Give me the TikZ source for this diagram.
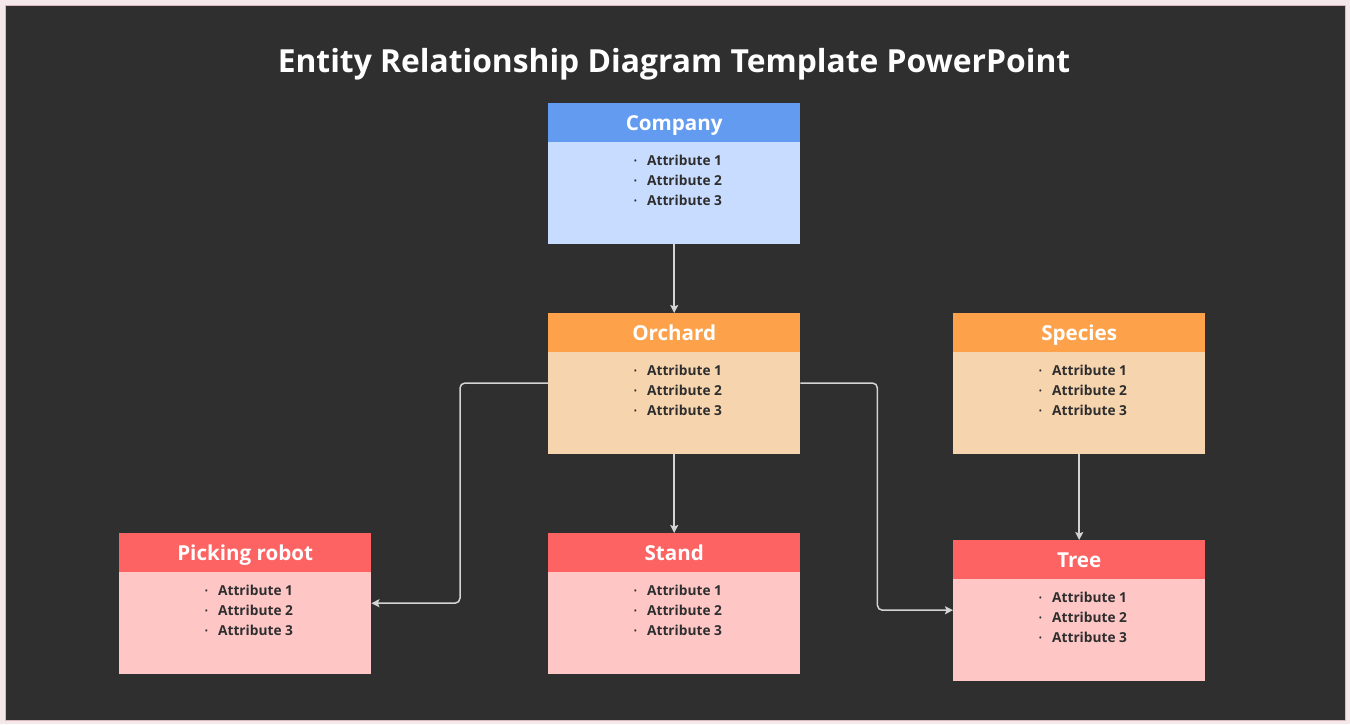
\documentclass[tikz,border=0pt]{standalone}
\usepackage{fontspec}
\setmainfont{Open Sans}
\usetikzlibrary{arrows.meta}
\definecolor{bg}{HTML}{2F2F2F}
\definecolor{outerbg}{HTML}{F4E8EA}
\definecolor{edge}{HTML}{D8B9BE}
\definecolor{blueH}{HTML}{639BF0}
\definecolor{blueB}{HTML}{C8DCFF}
\definecolor{orangeH}{HTML}{FDA24B}
\definecolor{orangeB}{HTML}{F6D4AE}
\definecolor{redH}{HTML}{FE6363}
\definecolor{redB}{HTML}{FFC6C6}
\definecolor{linec}{HTML}{D4D4D4}
\definecolor{txt}{HTML}{2E2E2E}
\tikzset{
  headbox/.style={rectangle, inner sep=0pt, minimum width=252pt, minimum height=39pt, anchor=north west,
     text height=18pt, text depth=2pt,
     text=white, font=\fontsize{20.6}{24}\selectfont\bfseries},
  bodybox/.style={rectangle, inner sep=0pt, minimum width=252pt, minimum height=102pt, anchor=north west},
  attrlist/.style={inner sep=0pt, anchor=north, align=left, text=txt, font=\fontsize{13.7}{20}\selectfont\bfseries},
  conn/.style={draw=linec, line width=1.5pt, rounded corners=5pt, -{Stealth[length=8pt,width=8pt,inset=1.5pt]}},
}
\newcommand\attrs{{\fontsize{7}{7}\selectfont\raisebox{2pt}{\textbullet}}\hspace{10.5pt}Attribute 1\\{\fontsize{7}{7}\selectfont\raisebox{2pt}{\textbullet}}\hspace{10.5pt}Attribute 2\\{\fontsize{7}{7}\selectfont\raisebox{2pt}{\textbullet}}\hspace{10.5pt}Attribute 3}
\newcommand\ERentity[6]{%
  \node[headbox, fill=#5] (#1H) at (#2,#3) {#4};
  \node[bodybox, fill=#6] (#1B) at (#2,#3+39) {};
  \node[attrlist] (#1L) at (#2+130,#3+52) {\attrs};
}
\begin{document}
\begin{tikzpicture}[x=1pt,y=-1pt]
\fill[outerbg] (0,0) rectangle (1350,724);
\useasboundingbox (0,0) rectangle (1350,724);
\fill[bg, draw=edge, line width=1pt] (5,5) rectangle (1345,720);
\node[text=white, font=\fontsize{31.8}{36}\selectfont\bfseries] (title) at (674,64) {Entity Relationship Diagram Template PowerPoint};
\ERentity{company}{548}{103}{Company}{blueH}{blueB}
\ERentity{orchard}{548}{313}{Orchard}{orangeH}{orangeB}
\ERentity{species}{953}{313}{Species}{orangeH}{orangeB}
\ERentity{robot}{119}{533}{Picking robot}{redH}{redB}
\ERentity{stand}{548}{533}{Stand}{redH}{redB}
\ERentity{tree}{953}{540}{Tree}{redH}{redB}
\draw[conn] (companyB.south) -- (orchardH.north);
\draw[conn] (orchardB.south) -- (standH.north);
\draw[conn] (speciesB.south) -- (treeH.north);
\draw[conn] ([yshift=-31pt]orchardB.north west) -- ++(-88,0) |- ([yshift=20pt]robotB.east);
\draw[conn] ([yshift=-31pt]orchardB.north east) -- ++(77,0) |- ([yshift=20pt]treeB.west);
\end{tikzpicture}
\end{document}
